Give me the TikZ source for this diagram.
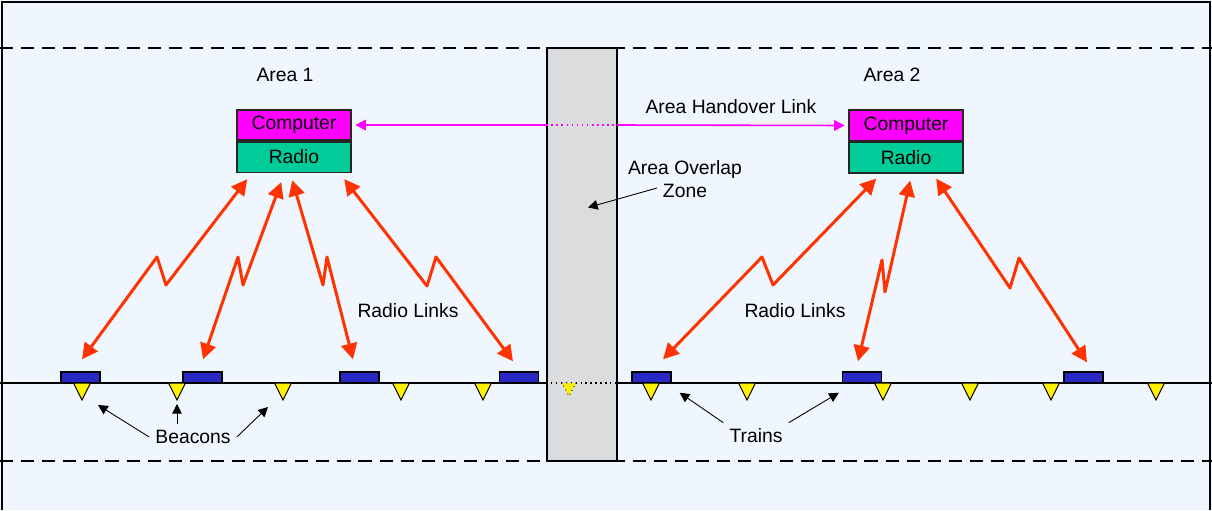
\documentclass[tikz,border=0pt]{standalone}
\usepackage{fontspec}
\setmainfont{Liberation Sans}
\usepackage{tikz}
\usetikzlibrary{arrows.meta,calc}
\definecolor{skyback}{RGB}{239,246,254}
\definecolor{zonegray}{RGB}{218,220,222}
\definecolor{radiored}{RGB}{255,51,0}
\definecolor{radiogreen}{RGB}{0,204,153}
\definecolor{trainblue}{RGB}{40,40,196}
\definecolor{linkpink}{RGB}{255,0,255}

\begin{document}
\begin{tikzpicture}[x=0.02cm, y=-0.02cm, font=\fontsize{11}{13}\selectfont,
  compbox/.style={draw=black!85, line width=0.9pt, fill=linkpink, minimum width=2.28cm, minimum height=0.61cm, inner sep=0pt},
  radiobox/.style={compbox, fill=radiogreen},
  train/.style={draw=black, line width=0.8pt, fill=trainblue, minimum width=0.78cm, minimum height=0.22cm, inner sep=0pt},
  radiolink/.style={radiored, line width=1.7pt, line join=round, {Triangle[length=9pt,width=9pt]}-{Triangle[length=9pt,width=9pt]}},
  handover/.style={linkpink, line width=0.9pt},
  callout/.style={-{Triangle[length=5.5pt,width=5.5pt]}, line width=0.5pt},
  limit/.style={dash pattern=on 7.5pt off 4.5pt, line width=0.9pt}]
  \useasboundingbox (0,0) rectangle (1212,510);
  % Background and frame
  \fill[skyback] (0,0) rectangle (1212,510);
  \draw[line width=1.2pt] (2,510) -- (2,2) -- (1210,2) -- (1210,510);
  % Area limits
  \draw[limit] (0,48) -- (1212,48);
  \draw[limit] (0,461) -- (1212,461);
  % Overlap zone
  \node[draw, line width=1pt, fill=zonegray, minimum width=1.4cm, minimum height=8.26cm, inner sep=0pt] (zone) at (582,254.5) {};
  % Track
  \coordinate (trackL) at (0,383);
  \coordinate (trackR) at (1212,383);
  \draw[line width=0.8pt] (trackL) -- (zone.west |- trackL);
  \draw[line width=0.8pt, dotted] (zone.west |- trackL) -- (zone.east |- trackL);
  \draw[line width=0.8pt] (zone.east |- trackL) -- (trackR);
  % Area computers
  \node[compbox] (comp1) at (294,125) {Computer};
  \node[radiobox, anchor=north] (radio1) at (comp1.south) {Radio};
  \node[compbox] (comp2) at (906,125.5) {Computer};
  \node[radiobox, anchor=north] (radio2) at (comp2.south) {Radio};
  % Handover link
  \draw[handover, {Triangle[length=6pt,width=6pt]}-] ([xshift=2pt]comp1.east) -- (zone.west |- comp1.east);
  \draw[handover, dotted] (zone.west |- comp1.east) -- (zone.east |- comp1.east);
  \draw[handover, -{Triangle[length=6pt,width=6pt]}] (zone.east |- comp1.east) -- ([xshift=-2pt]comp2.west);
  % Labels
  \node (area1) at (285,75) {Area 1};
  \node (area2) at (892,75) {Area 2};
  \node (hotext) at (731,107) {Area Handover Link};
  \node[align=center] (ovtext) at (685,179) {Area Overlap\\Zone};
  \node (links1) at (408,311) {Radio Links};
  \node (links2) at (795,311) {Radio Links};
  \node (beacons) at (193,437) {Beacons};
  \node (trains) at (756,436) {Trains};
  % Trains
  \foreach \x/\n in {80.5/1, 202.5/2, 359.5/3, 519/4, 651.5/5, 862/6, 1083.5/7}
    \node[train] (t\n) at (\x,377.5) {};
  % Beacons
  \foreach \x/\n in {82/1, 177/2, 283/3, 401/4, 483/5, 651/6, 747/7, 883/8, 970/9, 1051/10, 1156/11} {
    \draw[line width=0.6pt, fill=yellow] (\x-8.5,383) -- (\x+8.5,383) -- (\x,400) -- cycle;
    \coordinate (b\n) at (\x,400);
  }
  \draw[line width=0.5pt, dotted, fill=yellow] (562,383) -- (576,383) -- (569,396) -- cycle;
  % Radio links, area 1
  \draw[radiolink] ($(t1.north)+(1.5,-12)$) -- (157,257) -- (166,285) -- ($(radio1.south west)+(11,6)$);
  \draw[radiolink] ($(t2.north)+(0.5,-12)$) -- (238,257) -- (243,285) -- ($(radio1.south west)+(45,9)$);
  \draw[radiolink] ($(radio1.south west)+(56,7)$) -- (323,285) -- (327,257) -- ($(t3.north)+(-6.5,-12)$);
  \draw[radiolink] ($(radio1.south west)+(108,6)$) -- (427,286) -- (436,257) -- ($(t4.north)+(-6,-10)$);
  % Radio links, area 2
  \draw[radiolink] ($(t5.north)+(11.5,-12)$) -- (762,257) -- (773,285) -- ($(radio2.south west)+(28,5)$);
  \draw[radiolink] ($(t6.north)+(-4,-10)$) -- (882,260) -- (885,292) -- ($(radio2.south west)+(62,7)$);
  \draw[radiolink] ($(radio2.south west)+(88,5)$) -- (1010,288) -- (1019,258) -- ($(t7.north)+(3.5,-9)$);
  % Callouts
  \draw[callout] ($(ovtext.center)+(-28,9)$) -- ($(zone.center)+(6,-47)$);
  \draw[callout] (beacons.west) -- ($(b1)+(16,5)$);
  \draw[callout] (beacons.north -| b2) -- ($(b2)+(0,4)$);
  \draw[callout] (beacons.east) -- ($(b3)+(-15,7)$);
  \draw[callout] (trains.north west) -- ($(t5.south east)+(8,9)$);
  \draw[callout] (trains.north east) -- ($(t6.south west)+(-3,9)$);
\end{tikzpicture}
\end{document}
